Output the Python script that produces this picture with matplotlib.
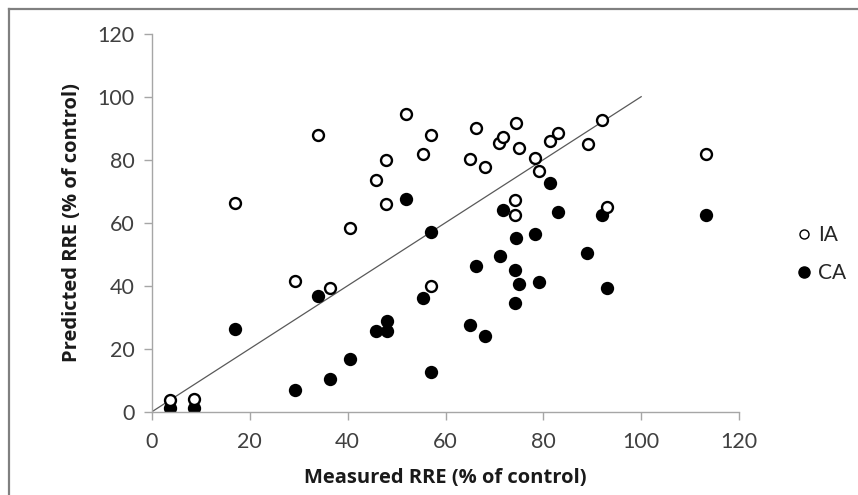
import numpy as np
import matplotlib
matplotlib.use("Agg")
import matplotlib.pyplot as plt
from matplotlib.lines import Line2D

medido = [3.7, 8.5, 16.9, 29.2, 33.9, 36.3, 40.4, 45.7, 47.9, 47.9, 52.0,
          55.3, 57.0, 57.0, 65.0, 66.2, 68.0, 71.0, 71.7, 74.2, 74.2, 74.4,
          75.1, 78.2, 79.1, 81.4, 82.9, 89.1, 91.9, 93.1, 113.3]

previsto_ia = [3.7, 4.0, 66.3, 41.6, 88.0, 39.2, 58.4, 73.5, 79.8, 66.0, 94.6,
               81.9, 87.7, 39.9, 80.2, 90.1, 77.8, 85.3, 87.1, 67.3, 62.4, 91.8,
               83.6, 80.5, 76.3, 85.9, 88.5, 85.0, 92.7, 65.1, 81.9]

medido_ca = [3.7, 8.5, 16.9, 29.2, 33.9, 36.3, 40.4, 45.7, 48.1, 48.1, 52.0,
             55.3, 57.0, 57.0, 65.0, 66.2, 68.0, 71.1, 71.8, 74.2, 74.2, 74.5,
             75.1, 78.2, 79.1, 81.4, 82.9, 89.0, 91.9, 93.0, 113.3]

previsto_ca = [1.1, 1.1, 26.4, 6.9, 36.8, 10.4, 16.7, 25.7, 28.9, 25.7, 67.6,
               36.2, 57.2, 12.5, 27.4, 46.2, 24.0, 49.4, 64.1, 45.0, 34.6, 55.0,
               40.6, 56.3, 41.3, 72.5, 63.5, 50.3, 62.5, 39.2, 62.5]

linha_1para1 = [0, 100]
ticks = [0, 20, 40, 60, 80, 100, 120]
rotulos = ["IA", "CA"]

plt.rcParams['font.family'] = ['Lato', 'DejaVu Sans']

fig = plt.figure(figsize=(8.58, 4.95), dpi=100)
ax = fig.add_axes([152 / 858, 1 - 411.7 / 495, 587 / 858, 378 / 495])

# linha 1:1
ax.plot(linha_1para1, linha_1para1, color='#595959', lw=0.9, zorder=1)

# pontos
ax.scatter(medido, previsto_ia, s=62, facecolors='white', edgecolors='black',
           linewidths=1.7, zorder=3)
ax.scatter(medido_ca, previsto_ca, s=92, color='black', linewidths=0, zorder=2)

ax.set_xlim(0, 120)
ax.set_ylim(0, 120)
ax.set_xticks(ticks)
ax.set_yticks(ticks)

cinza = '#a6a6a6'
for lado in ['top', 'right']:
    ax.spines[lado].set_visible(False)
for lado in ['left', 'bottom']:
    ax.spines[lado].set_color(cinza)
    ax.spines[lado].set_linewidth(1.0)
ax.tick_params(direction='out', length=5.5, width=1.0, color=cinza,
               labelsize=15.5, labelcolor='#404040')
ax.tick_params(axis='x', pad=9)
ax.tick_params(axis='y', pad=7)

# rótulos dos eixos em negrito
fonte_rotulo = dict(family=['Open Sans', 'DejaVu Sans'], fontsize=14.5,
                    fontweight='bold', color='#1a1a1a')
ax.set_xlabel('Measured RRE (% of control)', **fonte_rotulo)
ax.set_ylabel('Predicted RRE (% of control)', **fonte_rotulo)
ax.xaxis.set_label_coords(0.5, (411.7 - 478) / 378)
ax.xaxis.label.set_verticalalignment('center')
ax.yaxis.set_label_coords((72 - 152) / 587, 0.5)
ax.yaxis.label.set_verticalalignment('center')

# legenda
alcas = [Line2D([], [], ls='none', marker='o', markersize=6.5, markerfacecolor='white',
                markeredgecolor='black', markeredgewidth=1.0),
         Line2D([], [], ls='none', marker='o', markersize=8, color='black')]
fig.legend(alcas, rotulos, loc='center left', bbox_to_anchor=(775 / 858, 1 - 254 / 495),
           frameon=False, fontsize=15, handletextpad=0.15, labelspacing=0.85,
           handlelength=1.0, labelcolor='#262626')

# moldura do gráfico
borda = '#808080'
fig.add_artist(Line2D([9 / 858, 9 / 858], [0, 1 - 9 / 495], color=borda, lw=1.6,
                      transform=fig.transFigure))
fig.add_artist(Line2D([9 / 858, 1], [1 - 9 / 495, 1 - 9 / 495], color=borda, lw=1.6,
                      transform=fig.transFigure))

fig.savefig('out.png', dpi=100)
